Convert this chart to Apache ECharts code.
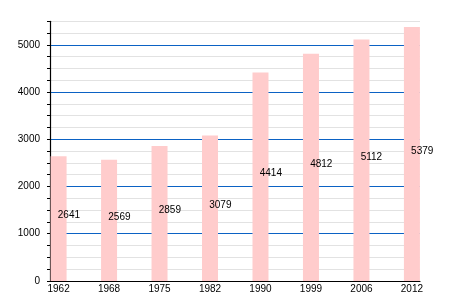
<!DOCTYPE html>
<html><head><meta charset="utf-8">
<script src="https://cdn.jsdelivr.net/npm/echarts@6/dist/echarts.min.js"></script>
<style>html,body{margin:0;padding:0;background:#fff}#c{width:450px;height:300px}</style>
</head><body><div id="c"></div>
<script>
var years = ['1962','1968','1975','1982','1990','1999','2006','2012'];
var population = [2641, 2569, 2859, 3079, 4414, 4812, 5112, 5379];
var yTicks = [0, 1000, 2000, 3000, 4000, 5000];

var chart = echarts.init(document.getElementById('c'), null, {renderer:'canvas'});
var font = 'Liberation Sans, Arial, sans-serif';
chart.setOption({
  animation: false,
  grid: {left: 50, right: 30, top: 21.3, bottom: 19.1, containLabel: false},
  xAxis: {
    type: 'value', min: -0.17, max: 7.16,
    splitLine: {show: false},
    axisLine: {show: true, onZero: false, lineStyle: {color: '#000', width: 1.2}},
    axisTick: {show: false},
    axisLabel: {
      customValues: years.map(function(_, i){ return i; }),
      formatter: function(v){ return years[Math.round(v)]; },
      color: '#000', fontSize: 10, fontFamily: font, margin: 3
    }
  },
  yAxis: [{
    type: 'value', min: 0, max: 5500, interval: 250, position: 'left',
    axisLine: {show: true, onZero: false, lineStyle: {color: '#000', width: 1.2}},
    axisTick: {show: true, length: 3, lineStyle: {color: '#000'}},
    axisLabel: {show: false},
    splitLine: {show: true, lineStyle: {color: '#e2e2e2', width: 1}}
  }, {
    type: 'value', min: 0, max: 5500, interval: 1000, position: 'left',
    axisLine: {show: false},
    axisTick: {show: false},
    axisLabel: {
      formatter: function(v){ return yTicks.indexOf(v) >= 0 ? String(v) : ''; },
      color: '#000', fontSize: 10, fontFamily: font, margin: 10
    },
    splitLine: {show: true, showMinLine: false, showMaxLine: false, lineStyle: {color: '#0b62c4', width: 1}}
  }],
  series: [{
    type: 'bar',
    yAxisIndex: 0,
    barWidth: 16,
    itemStyle: {color: '#ffcccc'},
    data: population.map(function(v, i){ return [i, v]; }),
    label: {
      show: true,
      position: ['45%', '50%'],
      offset: [0, 2],
      align: 'left', verticalAlign: 'bottom',
      color: '#000', fontSize: 10, fontFamily: font,
      formatter: function(p){ return p.value[1]; }
    }
  }]
});
</script></body></html>
